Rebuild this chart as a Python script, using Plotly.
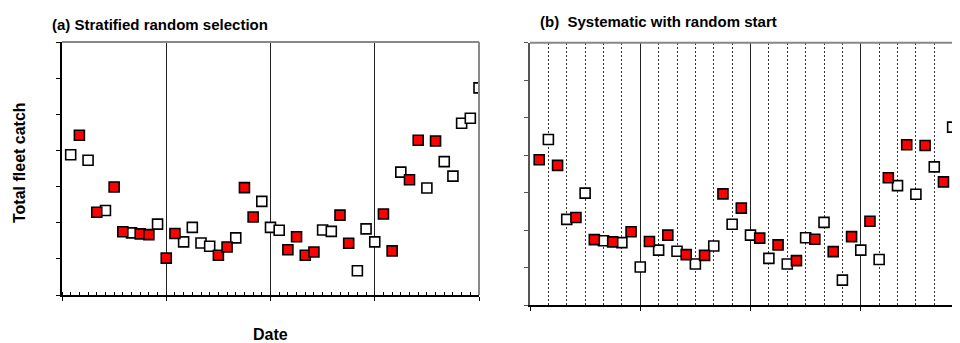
import plotly.graph_objects as go

# The page body adds an 8px margin, so the figure is 952x335 and offset by 8px.
OFF = 8
W, H = 960 - OFF, 343 - OFF

# Sampling days (48 periods across 4 strata/years)
periods = list(range(1, 49))

# Total fleet catch per period
catch = [3.88, 4.42, 3.73, 2.29, 2.34, 2.99, 1.75, 1.72, 1.69, 1.67, 1.96, 1.02,
         1.70, 1.47, 1.87, 1.44, 1.35, 1.10, 1.33, 1.58, 2.97, 2.16, 2.59, 1.87,
         1.79, 1.25, 1.61, 1.10, 1.19, 1.80, 1.76, 2.21, 1.43, 0.67, 1.83, 1.47,
         2.24, 1.22, 3.40, 3.19, 4.28, 2.96, 4.26, 3.69, 3.29, 4.75, 4.89, 5.73]

# Periods selected under each design
selected_stratified = [2, 4, 6, 7, 9, 10, 12, 13, 18, 19, 21, 22, 26, 27, 28, 29,
                       32, 33, 37, 38, 40, 41, 43]
selected_systematic = [p for p in periods if p % 2 == 1]

titles = ["(a) Stratified random selection", "(b)&nbsp; Systematic with random start"]
y_title = "Total fleet catch"
x_title = "Date"

FONT = "Liberation Sans, Arial, sans-serif"


def px_x(p):
    return (p - OFF) / W


def px_y(p):
    return 1 - (p - OFF) / H


def split(selected):
    sx = [p for p in periods if p in selected]
    sy = [catch[p - 1] for p in sx]
    ux = [p for p in periods if p not in selected]
    uy = [catch[p - 1] for p in ux]
    return sx, sy, ux, uy


fig = go.Figure()

marker_common = dict(symbol="square", size=10, line=dict(color="black", width=1.6))

for sel, xa, ya in [(selected_stratified, "x", "y"), (selected_systematic, "x2", "y2")]:
    sx, sy, ux, uy = split(sel)
    clip = xa == "x"
    fig.add_trace(go.Scatter(x=ux, y=uy, xaxis=xa, yaxis=ya, mode="markers",
                             marker=dict(color="white", **marker_common), cliponaxis=clip,
                             showlegend=False, hoverinfo="x+y"))
    fig.add_trace(go.Scatter(x=sx, y=sy, xaxis=xa, yaxis=ya, mode="markers",
                             marker=dict(color="#FF0000", **marker_common), cliponaxis=clip,
                             showlegend=False, hoverinfo="x+y"))

fig.update_layout(
    xaxis=dict(domain=[px_x(62), px_x(479)], range=[0, 48], showticklabels=False,
               showline=True, linecolor="black", linewidth=1.5,
               ticks="outside", tick0=0, dtick=12, ticklen=4, tickcolor="black", tickwidth=1,
               showgrid=True, gridcolor="#222", gridwidth=1, zeroline=False,
               minor=dict(dtick=1, ticks="inside", ticklen=3, tickcolor="black", tickwidth=1,
                          showgrid=False),
               anchor="y", fixedrange=True),
    yaxis=dict(domain=[px_y(295), px_y(42)], range=[0, 7], showticklabels=False,
               showline=True, linecolor="black", linewidth=1.5,
               ticks="outside", dtick=1, ticklen=4, tickcolor="black",
               showgrid=False, zeroline=False, anchor="x", fixedrange=True),
    xaxis2=dict(domain=[px_x(530), 1.0], range=[0, 46.8], showticklabels=False,
                showline=True, linecolor="black", linewidth=1.5,
                ticks="outside", tick0=0, dtick=12, ticklen=4, tickcolor="black",
                showgrid=True, gridcolor="#222", gridwidth=1, zeroline=False,
                minor=dict(dtick=2, showgrid=True, gridcolor="#333", gridwidth=1,
                           griddash="2px,2px", ticks=""),
                anchor="y2", fixedrange=True),
    yaxis2=dict(domain=[px_y(305.3), px_y(42.7)], range=[0, 7], showticklabels=False,
                showline=True, linecolor="#555", linewidth=2,
                ticks="outside", dtick=1, ticklen=4, tickcolor="#555",
                showgrid=False, zeroline=False, anchor="x2", fixedrange=True),
)

# Plot-area borders (top/right in grey)
border = dict(color="#888", width=2)
fig.add_shape(type="line", xref="x domain", yref="y domain", x0=0, x1=1, y0=1, y1=1, line=border)
fig.add_shape(type="line", xref="x domain", yref="y domain", x0=1, x1=1, y0=0, y1=1, line=border)
fig.add_shape(type="line", xref="x2 domain", yref="y2 domain", x0=0, x1=1, y0=1, y1=1, line=border)

ann_font = dict(family=FONT, size=15, color="black", weight="bold")
fig.add_annotation(text=titles[0], xref="paper", yref="paper", x=px_x(50), y=px_y(24),
                   xanchor="left", yanchor="middle", showarrow=False, font=ann_font)
fig.add_annotation(text=titles[1], xref="paper", yref="paper", x=px_x(538), y=px_y(22),
                   xanchor="left", yanchor="middle", showarrow=False, font=ann_font)
fig.add_annotation(text=y_title, xref="paper", yref="paper", x=px_x(19), y=px_y(163),
                   xanchor="center", yanchor="middle", textangle=-90, showarrow=False,
                   font=dict(family=FONT, size=16, color="black", weight="bold"))
fig.add_annotation(text=x_title, xref="paper", yref="paper", x=px_x(270), y=px_y(334),
                   xanchor="center", yanchor="middle", showarrow=False,
                   font=dict(family=FONT, size=16, color="black", weight="bold"))

fig.update_layout(width=W, height=H, margin=dict(l=0, r=0, t=0, b=0),
                  paper_bgcolor="white", plot_bgcolor="white",
                  font=dict(family=FONT))

fig.write_html("out.html")
